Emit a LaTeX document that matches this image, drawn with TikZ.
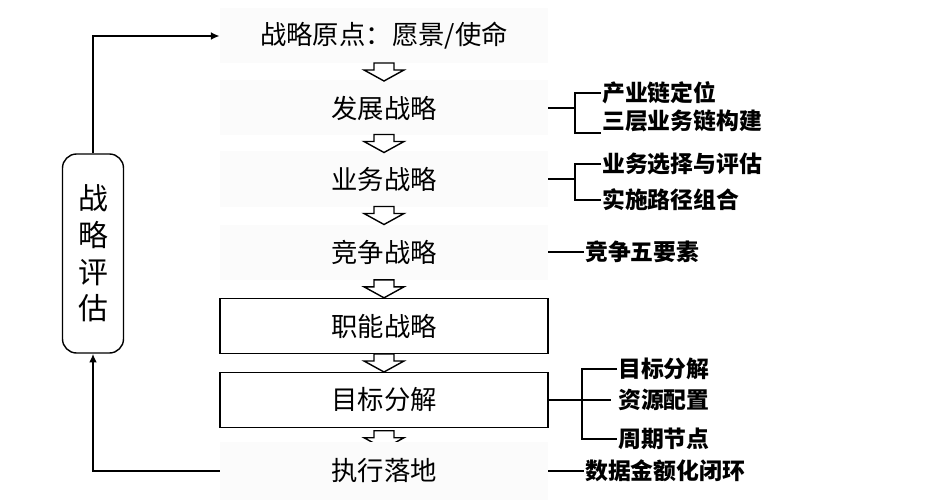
\documentclass[tikz,border=0pt]{standalone}
\usepackage{fontspec}
\setmainfont{Noto Sans CJK SC}
\usetikzlibrary{arrows.meta,positioning,calc}

\begin{document}
\begin{tikzpicture}[
  stage/.style={minimum width=6.56cm,minimum height=1.1cm,fill=black!1.5,
    font=\fontsize{15}{18}\selectfont},
  framed/.style={stage,draw,fill=white,line width=0.8pt},
  evalbox/.style={draw,rounded corners=8pt,minimum width=1.22cm,minimum height=3.98cm,
    align=center,line width=0.8pt,font=\fontsize{17}{20.8}\selectfont},
  lab/.style={anchor=west,inner sep=0.5pt,font=\bfseries\fontsize{13}{16}\selectfont},
  brk/.style={line width=1pt},
  loop/.style={line width=1.2pt,-{Latex[length=5pt,width=4.5pt]}},
  downarrow/.pic={\draw[line width=0.8pt,fill=white] (-0.2,0.18) -- (0.2,0.18) -- (0.2,0.04)
    -- (0.4,0.04) -- (0,-0.18) -- (-0.4,0.04) -- (-0.2,0.04) -- cycle;}
]
\useasboundingbox (0,0) rectangle (18.8,-10.08);
% Main chain
\node[stage] (origin) at (7.68,-0.72) {战略原点：愿景/使命};
\node[stage] (dev) at (7.68,-2.16) {发展战略};
\node[stage] (biz) at (7.68,-3.58) {业务战略};
\node[stage] (comp) at (7.68,-5.04) {竞争战略};
\node[framed] (func) at (7.68,-6.52) {职能战略};
\node[framed] (goal) at (7.68,-8.0) {目标分解};
\pic at ($(origin)!0.5!(dev)$) {downarrow};
\pic at ($(dev)!0.5!(biz)$) {downarrow};
\pic at ($(biz)!0.5!(comp)$) {downarrow};
\pic at ($(comp.south)!0.5!(func.north)$) {downarrow};
\pic at ($(func.south)!0.5!(goal.north)$) {downarrow};
\pic at ($(goal.south)+(0,-0.23)$) {downarrow};
\node[stage,minimum height=1.16cm] (exec) at (7.68,-9.42) {执行落地};
% Evaluation loop
\node[evalbox] (eval) at (1.86,-5.07) {战\\略\\评\\估};
\draw[loop] (eval.north) |- (origin.west);
\draw[loop] (exec.west) -| (eval.south);
% Development strategy
\node[lab] (d1) at (12.02,-1.86) {产业链定位};
\node[lab] (d2) at (12.02,-2.42) {三层业务链构建};
\coordinate (dj) at (11.5,-2.16);
\draw[brk] (dev.east) -- (dj);
\draw[brk] (d1.west) -| (dj) |- (d2.south west);
% Business strategy
\node[lab] (b1) at (12.02,-3.28) {业务选择与评估};
\node[lab] (b2) at (12.02,-4.0) {实施路径组合};
\coordinate (bj) at (11.5,-3.58);
\draw[brk] (biz.east) -- (bj);
\draw[brk] (b1.west) -| (bj) |- (b2.west);
% Competition
\node[lab] (c1) at (11.68,-5.04) {竞争五要素};
\draw[brk] (comp.east) -- (c1.west);
% Goal breakdown
\node[lab] (g1) at (12.34,-7.38) {目标分解};
\node[lab] (g2) at (12.34,-8.0) {资源配置};
\node[lab] (g3) at (12.34,-8.78) {周期节点};
\coordinate (gj) at (11.64,-8.0);
\draw[brk] (goal.east) -- ($(g2.west)+(-0.12,0)$);
\draw[brk] (g1.west) -| (gj) |- (g3.west);
% Execution
\node[lab] (e1) at (11.68,-9.42) {数据金额化闭环};
\draw[brk] (exec.east) -- (e1.west);
\end{tikzpicture}
\end{document}
